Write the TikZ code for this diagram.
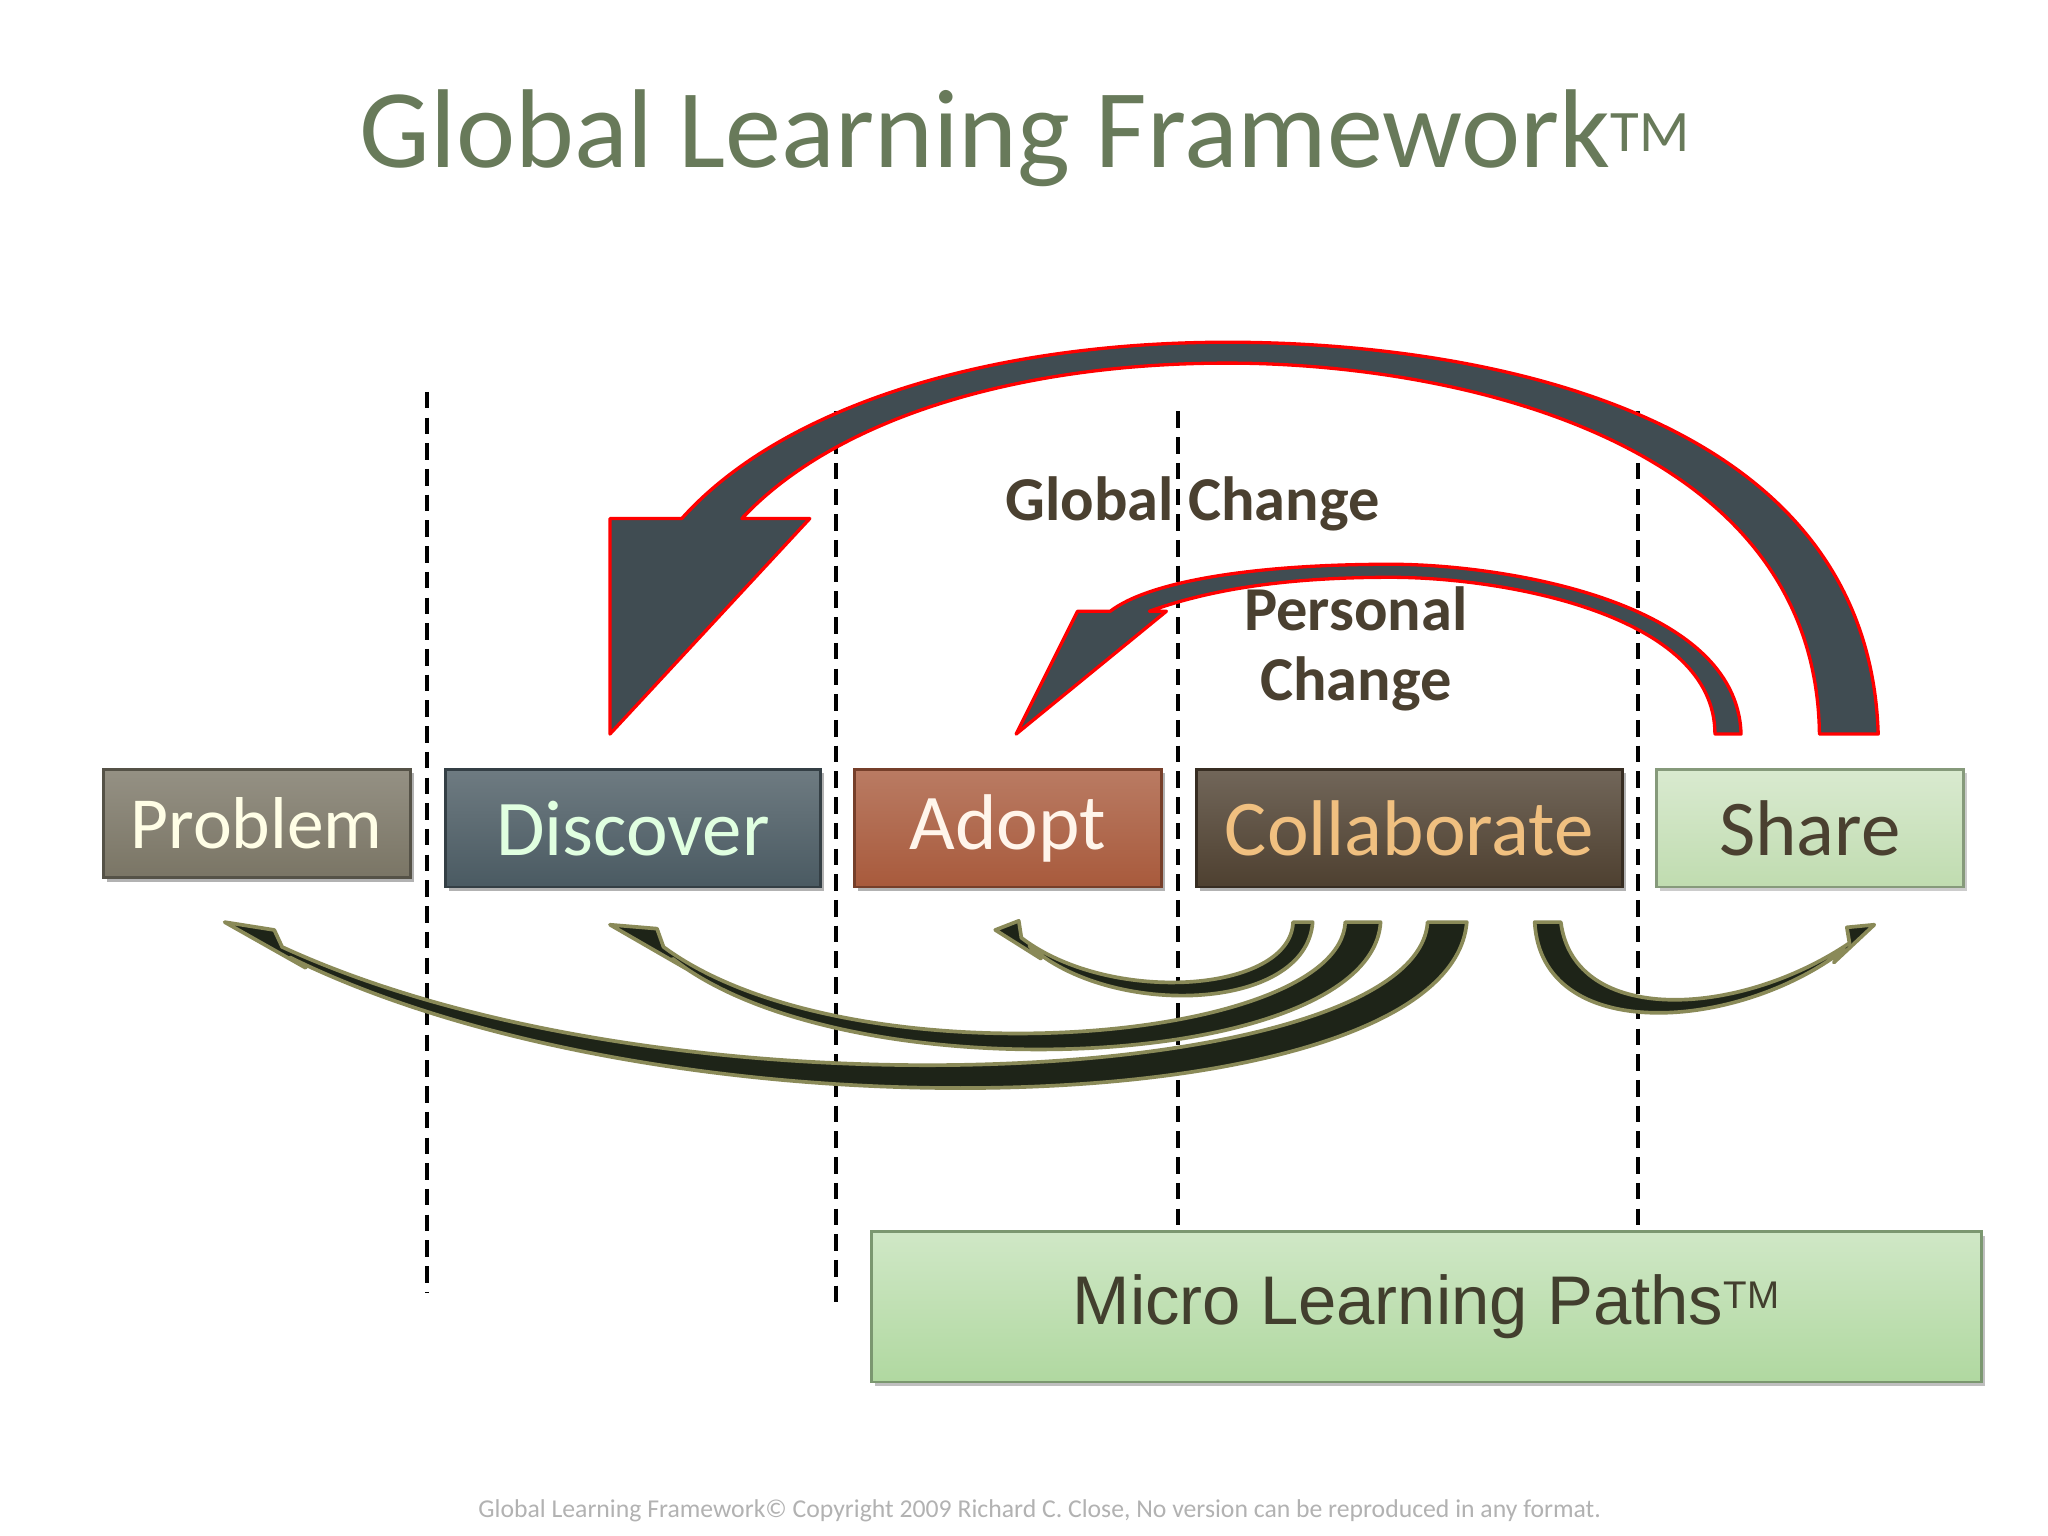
\documentclass[tikz,border=0pt]{standalone}
\usepackage{fontspec}
\setmainfont{Carlito}
\newfontfamily\arialf{Liberation Sans}
\begin{document}
\begin{tikzpicture}[x=0.025cm,y=-0.025cm,
  box/.style={draw=#1!70!black,line width=1.5pt,inner sep=0,anchor=north west},
  bigarrow/.style={fill=arrowfill,draw=red,line width=1.8pt,line join=round},
  smallarrow/.style={fill=darkfill,draw=olive2,line width=2pt,line join=round},
  dashline/.style={line width=2pt,dash pattern=on 9pt off 5pt},
  lab/.style={font=\bfseries\fontsize{34}{38}\selectfont,text=labc,align=center}]
\definecolor{titlec}{HTML}{687A5A}
\definecolor{arrowfill}{HTML}{404C52}
\definecolor{darkfill}{HTML}{1E2418}
\definecolor{olive2}{HTML}{8A8A58}
\definecolor{labc}{HTML}{4A4030}
\definecolor{probc}{HTML}{7A7565}
\definecolor{discc}{HTML}{4A5A62}
\definecolor{adopc}{HTML}{A85A3C}
\definecolor{collc}{HTML}{4E4030}
\definecolor{sharc}{HTML}{C0DCB0}
\definecolor{micrc}{HTML}{B0D8A0}
\useasboundingbox[fill=white] (0,0) rectangle (1568,1176);
\node[text=titlec,font=\fontsize{61}{66}\selectfont] (title) at (785,106) {Global Learning Framework\textsuperscript{\fontsize{32}{32}\selectfont TM}};
% dashed lines
\draw[dashline] (327,300) coordinate (d1a) -- (327,990) coordinate (d1b);
\draw[dashline] (640,315) coordinate (d2a) -- (640,1003) coordinate (d2b);
\draw[dashline] (902,315) coordinate (d3a) -- (902,940) coordinate (d3b);
\draw[dashline] (1254,315) coordinate (d4a) -- (1254,940) coordinate (d4b);
% boxes
\fill[black!30] (82,592) rectangle (317,675);
\node[box=probc,top color=probc!80!white,bottom color=probc,minimum width=235*0.025cm,minimum height=83*0.025cm,text=white!90!yellow,font=\fontsize{40}{44}\selectfont] (problem) at (78,588) {Problem};
\fill[black!30] (344,592) rectangle (631,682);
\node[box=discc,top color=discc!80!white,bottom color=discc,minimum width=287*0.025cm,minimum height=90*0.025cm,text=white!88!green,font=\fontsize{43}{46}\selectfont] (discover) at (340,588) {Discover};
\fill[black!30] (657,592) rectangle (892,682);
\node[box=adopc,top color=adopc!80!white,bottom color=adopc,minimum width=235*0.025cm,minimum height=90*0.025cm,text=white!92!orange,font=\fontsize{43}{46}\selectfont] (adopt) at (653,588) {Adopt};
\fill[black!30] (919,592) rectangle (1245,682);
\node[box=collc,top color=collc!80!white,bottom color=collc,minimum width=326*0.025cm,minimum height=90*0.025cm,text={rgb,255:red,240;green,192;blue,128},font=\fontsize{43}{46}\selectfont] (collab) at (915,588) {Collaborate};
\fill[black!20] (1271,592) rectangle (1506,682);
\node[box=sharc,top color=sharc!60!white,bottom color=sharc,minimum width=235*0.025cm,minimum height=90*0.025cm,text=labc,font=\fontsize{43}{46}\selectfont] (share) at (1267,588) {Share};
\fill[black!25] (670,946) rectangle (1520,1061);
\node[box=micrc,top color=micrc!60!white,bottom color=micrc,minimum width=850*0.025cm,minimum height=115*0.025cm,text=black!70!olive,font=\arialf\fontsize{37.5}{40}\selectfont] (micro) at (666,942) {Micro Learning Paths\textsuperscript{\fontsize{21}{21}\selectfont TM}};
% big arrow
\draw[bigarrow] (1438,562) .. controls (1430,300) and (1100,262) .. (940,262)
  .. controls (760,262) and (600,310) .. (522,397) -- (467,397) -- (467,562) -- (620,397) -- (568,397)
  .. controls (640,320) and (780,278) .. (940,278)
  .. controls (1100,278) and (1390,330) .. (1393,562) -- cycle;
% personal arrow
\draw[bigarrow] (1333,562) .. controls (1330,460) and (1150,432) .. (1065,432)
  .. controls (960,432) and (880,445) .. (850,468) -- (825,468) -- (778,562) -- (893,468) -- (880,468)
  .. controls (930,450) and (990,442) .. (1065,442)
  .. controls (1150,442) and (1313,470) .. (1313,562) -- cycle;
\node[lab] (glob) at (913,386) {Global Change};
\node[lab] (pers) at (1038,497) {Personal\\Change};
% bottom arrows
\draw[smallarrow] (1123,706) .. controls (1110,860) and (520,880) .. (222,733)
  -- (234,741) -- (172,706) -- (210,712) -- (216,725)
  .. controls (520,865) and (1085,830) .. (1093,706) -- cycle;
\draw[smallarrow] (1057,706) .. controls (1050,820) and (650,840) .. (515,734)
  -- (526,742) -- (467,708) -- (503,711) -- (508,725)
  .. controls (650,830) and (1025,800) .. (1030,706) -- cycle;
\draw[smallarrow] (1005,706) .. controls (1000,775) and (850,780) .. (788,724)
  -- (797,734) -- (762,712) -- (780,705) -- (782,718)
  .. controls (850,770) and (988,760) .. (990,706) -- cycle;
\draw[smallarrow] (1175,706) .. controls (1180,800) and (1330,790) .. (1412,727)
  -- (1404,737) -- (1435,708) -- (1414,710) -- (1416,722)
  .. controls (1330,780) and (1205,785) .. (1195,706) -- cycle;
\node[text=black!30,font=\fontsize{14}{16}\selectfont] (foot) at (796,1157) {Global Learning Framework© Copyright 2009 Richard C. Close, No version can be reproduced in any format.};
\end{tikzpicture}
\end{document}
